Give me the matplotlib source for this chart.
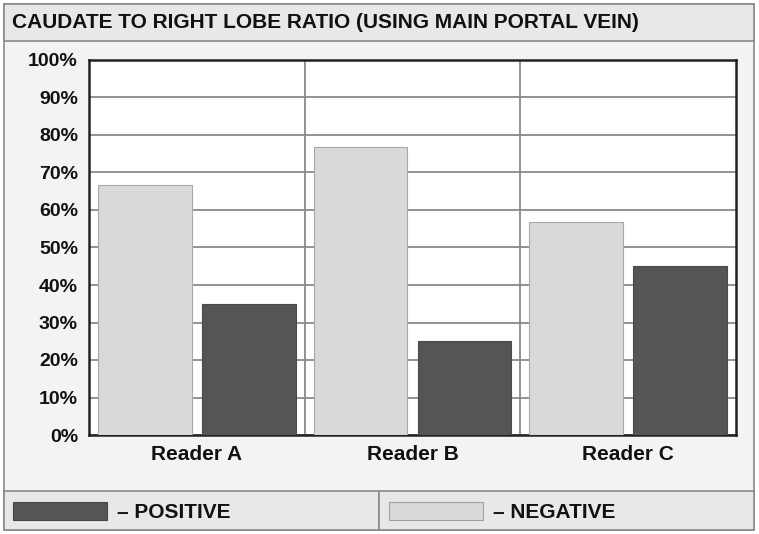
import matplotlib
matplotlib.use("Agg")
import matplotlib.pyplot as plt
from matplotlib.patches import Rectangle
from matplotlib.ticker import FuncFormatter

readers = ["Reader A", "Reader B", "Reader C"]
negative = [66.7, 76.7, 56.7]
positive = [35.0, 25.0, 45.0]
title = "CAUDATE TO RIGHT LOBE RATIO (USING MAIN PORTAL VEIN)"

plt.rcParams['font.family'] = ['Liberation Sans', 'DejaVu Sans']
plt.rcParams['font.weight'] = 'bold'

W, H = 759, 534
fig = plt.figure(figsize=(W / 100, H / 100), dpi=100)
fig.patch.set_facecolor("white")

def fx(px): return px / W
def fy(py): return 1 - py / H

# background panels: title band, body, legend band
fig.patches.append(Rectangle((fx(4), fy(530)), fx(750), 526 / H, transform=fig.transFigure,
                             facecolor="#f3f3f3", edgecolor="#8a8a8a", lw=1.2, zorder=0))
fig.patches.append(Rectangle((fx(4), fy(41)), fx(750), 37 / H, transform=fig.transFigure,
                             facecolor="#e8e8e8", edgecolor="#8a8a8a", lw=1.2, zorder=0))
fig.patches.append(Rectangle((fx(4), fy(530)), fx(375), 39 / H, transform=fig.transFigure,
                             facecolor="#e8e8e8", edgecolor="#8a8a8a", lw=1.2, zorder=0))
fig.patches.append(Rectangle((fx(379), fy(530)), fx(375), 39 / H, transform=fig.transFigure,
                             facecolor="#e8e8e8", edgecolor="#8a8a8a", lw=1.2, zorder=0))

fig.text(fx(12), fy(23), title, fontsize=15, fontweight="bold", color="#111111",
         ha="left", va="center")

# legend
fig.patches.append(Rectangle((fx(13), fy(520)), fx(94), 18 / H, transform=fig.transFigure,
                             facecolor="#555555", edgecolor="#444444", lw=0.8))
fig.text(fx(117), fy(512), "– POSITIVE", fontsize=15, fontweight="bold", color="#111111",
         ha="left", va="center")
fig.patches.append(Rectangle((fx(389), fy(520)), fx(94), 18 / H, transform=fig.transFigure,
                             facecolor="#d9d9d9", edgecolor="#a0a0a0", lw=0.8))
fig.text(fx(493), fy(512), "– NEGATIVE", fontsize=15, fontweight="bold", color="#111111",
         ha="left", va="center")

ax = fig.add_axes([fx(89), fy(435), fx(736 - 89), 375 / H])
ax.set_zorder(5)
ax.set_facecolor("white")
x = list(range(len(readers)))
bw = 0.433
off = 0.241
ax.bar([i - off for i in x], negative, width=bw, color="#d9d9d9", edgecolor="#a8a8a8",
       linewidth=0.8, zorder=3)
ax.bar([i + off for i in x], positive, width=bw, color="#555555", edgecolor="#4a4a4a",
       linewidth=0.8, zorder=3)

ax.set_xlim(-0.5, 2.5)
ax.set_ylim(0, 100)
ax.set_yticks(range(0, 101, 10))
ax.yaxis.set_major_formatter(FuncFormatter(lambda v, p: f"{int(v)}%"))
ax.set_xticks(x)
ax.set_xticklabels(readers)
ax.set_xticks([0.5, 1.5], minor=True)
ax.grid(axis="y", which="major", color="#8a8a8a", lw=1.3, zorder=0)
ax.grid(axis="x", which="minor", color="#8a8a8a", lw=1.3, zorder=0)
ax.set_axisbelow(True)
ax.tick_params(axis="both", which="both", length=0)
ax.tick_params(axis="y", labelsize=14, pad=8, colors="#111111")
ax.tick_params(axis="x", labelsize=15, pad=7, colors="#111111")
for lab in ax.get_xticklabels() + ax.get_yticklabels():
    lab.set_fontweight("bold")
for s in ax.spines.values():
    s.set_color("#222222")
    s.set_linewidth(1.8)

fig.savefig("out.png", dpi=100, facecolor=fig.get_facecolor())
